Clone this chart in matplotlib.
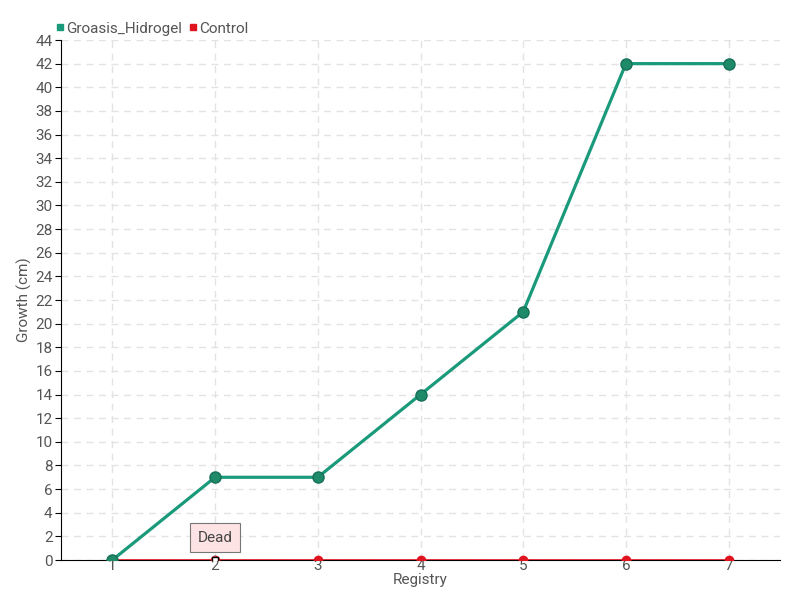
import matplotlib.pyplot as plt
from matplotlib.lines import Line2D

# data
registry = [1, 2, 3, 4, 5, 6, 7]
groasis = [0, 7, 7, 14, 21, 42, 42]
control = [0, 0, 0, 0, 0, 0, 0]
yticks = list(range(0, 46, 2))

plt.rcParams['font.family'] = ['Roboto', 'DejaVu Sans']
txt = '#555555'

fig = plt.figure(figsize=(8, 6), dpi=100)
ax = fig.add_axes([61/800, 40/600, 719/800, 520/600])

ax.plot(registry, control, color='#e0141e', linewidth=1.2, marker='o', markersize=6,
        markerfacecolor='#e0141e', markeredgecolor='#e0141e', zorder=3, label='Control')
ax.plot(registry, groasis, color='#1a9a7a', linewidth=2.3, marker='o', markersize=8,
        markerfacecolor='#1f8a68', markeredgecolor='#16705a', markeredgewidth=1, zorder=4,
        label='Groasis_Hidrogel')

# tooltip on the dead point
ax.annotate('Dead', xy=(registry[1], control[1]), xytext=(0, 16), textcoords='offset points',
            ha='center', va='center', fontsize=11, color='#444444',
            bbox=dict(boxstyle='square,pad=0.5', fc='#fde3e3', ec='#777777', lw=0.8),
            arrowprops=dict(arrowstyle='-', color='#777777', lw=0.8), zorder=6)
ax.plot(registry[1], control[1], marker='s', markersize=4, color='black',
        markerfacecolor='white', zorder=7)

ax.set_xlim(0.5, 7.5)
ax.set_ylim(0, 44)
ax.set_xticks(registry)
ax.set_yticks(yticks)
ax.grid(True, color='#e3e3e3', linestyle=(0, (5, 4)), linewidth=1)
ax.set_axisbelow(True)
for s in ['top', 'right']:
    ax.spines[s].set_visible(False)
ax.spines['left'].set_color('black')
ax.spines['bottom'].set_color('black')
ax.tick_params(axis='y', direction='out', length=4, colors=txt, labelsize=11, pad=2)
ax.tick_params(axis='x', direction='out', length=0, colors=txt, labelsize=11, pad=-1)
ax.tick_params(axis='both', color='black')
ax.set_xlabel('Registry', color=txt, fontsize=11, labelpad=0)
ax.set_ylabel('Growth (cm)', color=txt, fontsize=11, labelpad=2)

h1 = Line2D([], [], marker='s', color='#1a9a7a', linestyle='', markersize=5)
h2 = Line2D([], [], marker='s', color='#e0141e', linestyle='', markersize=5)
fig.legend([h1, h2], ['Groasis_Hidrogel', 'Control'], loc='upper left',
           bbox_to_anchor=(42/800, 1 - 8/600), ncol=2, frameon=False, fontsize=11,
           handlelength=0.6, handletextpad=0.1, columnspacing=0.4, labelcolor=txt)

fig.savefig('out.png', dpi=100)
